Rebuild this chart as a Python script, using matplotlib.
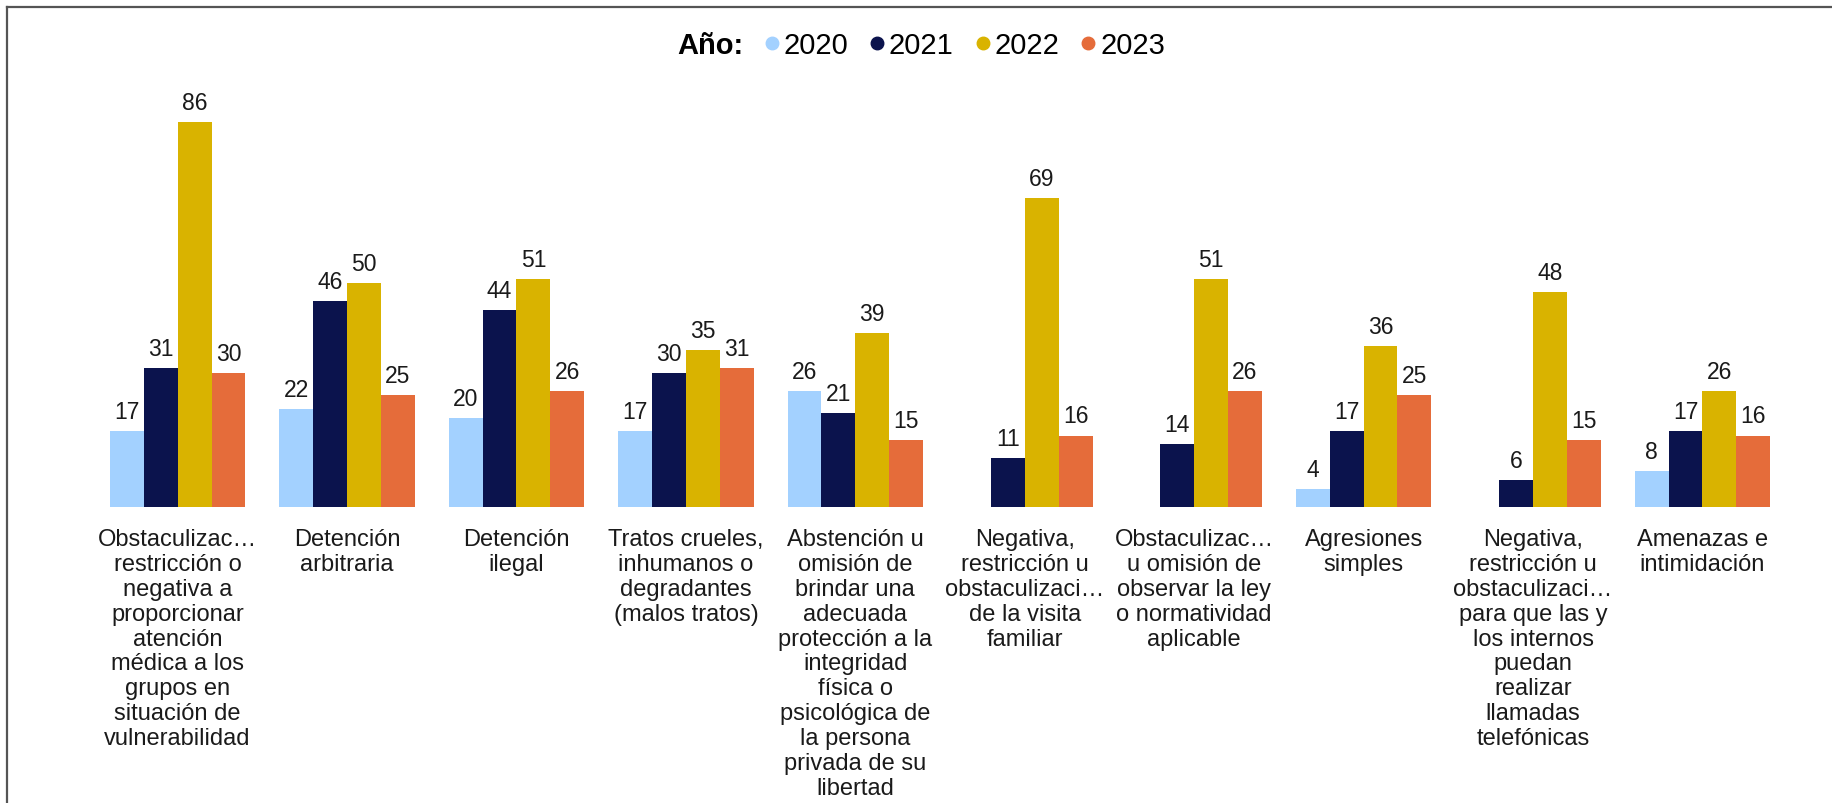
import numpy as np
import matplotlib
matplotlib.use("Agg")
import matplotlib.pyplot as plt
from matplotlib.lines import Line2D

plt.rcParams['font.family'] = ['Liberation Sans', 'DejaVu Sans']

# datos
categorias = [
    "Obstaculizac…\nrestricción o\nnegativa a\nproporcionar\natención\nmédica a los\ngrupos en\nsituación de\nvulnerabilidad",
    "Detención\narbitraria",
    "Detención\nilegal",
    "Tratos crueles,\ninhumanos o\ndegradantes\n(malos tratos)",
    "Abstención u\nomisión de\nbrindar una\nadecuada\nprotección a la\nintegridad\nfísica o\npsicológica de\nla persona\nprivada de su\nlibertad",
    "Negativa,\nrestricción u\nobstaculizaci…\nde la visita\nfamiliar",
    "Obstaculizac…\nu omisión de\nobservar la ley\no normatividad\naplicable",
    "Agresiones\nsimples",
    "Negativa,\nrestricción u\nobstaculizaci…\npara que las y\nlos internos\npuedan\nrealizar\nllamadas\ntelefónicas",
    "Amenazas e\nintimidación",
]
anios = ["2020", "2021", "2022", "2023"]
v2020 = [17, 22, 20, 17, 26, None, None, 4, None, 8]
v2021 = [31, 46, 44, 30, 21, 11, 14, 17, 6, 17]
v2022 = [86, 50, 51, 35, 39, 69, 51, 36, 48, 26]
v2023 = [30, 25, 26, 31, 15, 16, 26, 25, 15, 16]
series = [v2020, v2021, v2022, v2023]
colores = ["#A3D1FF", "#0B134D", "#D9B300", "#E56C3A"]

fig = plt.figure(figsize=(18.33, 8.04), dpi=100)
ax = fig.add_axes([0.0507, 0.368, 0.9243, 0.501])

x = np.arange(len(categorias))
w = 0.2
for i, (vals, col) in enumerate(zip(series, colores)):
    pos = x + (i - 1.5) * w
    for p, v in zip(pos, vals):
        if v is None:
            continue
        ax.bar(p, v, width=w, color=col, linewidth=0)
        ax.text(p, v + 1.8, str(v), ha='center', va='bottom', fontsize=16.5, color='#1a1a1a')

ax.set_xlim(-0.5, len(categorias) - 0.5)
ax.set_ylim(0, 90)
ax.set_yticks([])
ax.set_xticks(x)
ax.set_xticklabels(categorias, fontsize=17, color='#1a1a1a', linespacing=1.17, va='top')
ax.tick_params(axis='x', length=0, pad=15)
for s in ax.spines.values():
    s.set_visible(False)

# leyenda
ly = 1 - 46 / 804
fig.text(677 / 1833, ly, "Año:", fontsize=21, fontweight='bold', ha='left', va='center')
handles = [Line2D([], [], marker='o', linestyle='', markersize=9, color=c) for c in colores]
fig.legend(handles, anios, loc='center left', bbox_to_anchor=(757 / 1833, ly),
           ncol=4, frameon=False, fontsize=21, handletextpad=-0.1, columnspacing=0.5,
           handlelength=1.0, borderpad=0, borderaxespad=0)

# marco
fig.add_artist(Line2D([7 / 1833, 1], [1 - 8 / 804, 1 - 8 / 804], color='#555555', linewidth=1.6))
fig.add_artist(Line2D([7 / 1833, 7 / 1833], [0, 1 - 8 / 804], color='#555555', linewidth=1.6))

fig.savefig("out.png", dpi=100, facecolor='white')
